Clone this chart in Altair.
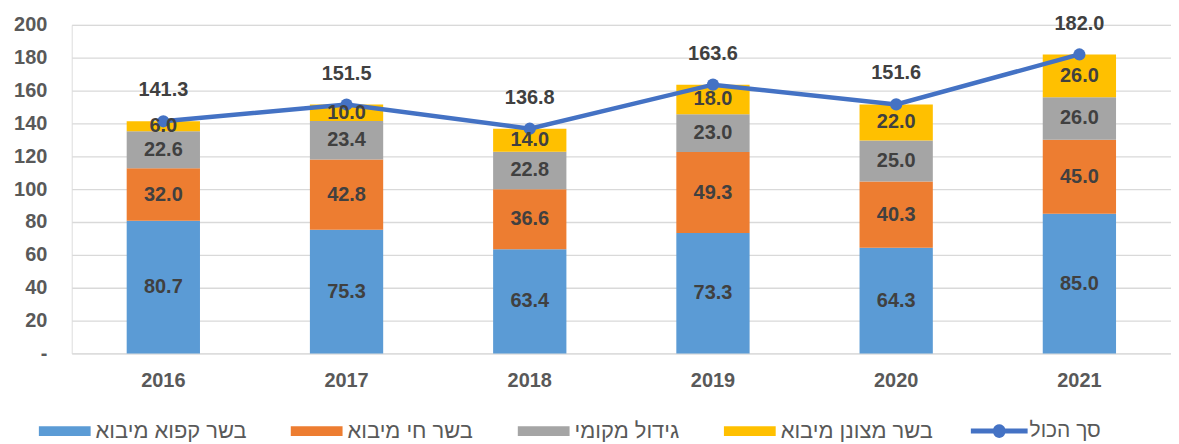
import altair as alt
import pandas as pd

years = ["2016", "2017", "2018", "2019", "2020", "2021"]
frozen = [80.7, 75.3, 63.4, 73.3, 64.3, 85.0]
live = [32.0, 42.8, 36.6, 49.3, 40.3, 45.0]
local = [22.6, 23.4, 22.8, 23.0, 25.0, 26.0]
chilled = [6.0, 10.0, 14.0, 18.0, 22.0, 26.0]
totals = [141.3, 151.5, 136.8, 163.6, 151.6, 182.0]

series_names = ["בשר קפוא מיבוא", "בשר חי מיבוא", "גידול מקומי", "בשר מצונן מיבוא"]
total_name = "סך הכול"
colors = ["#5B9BD5", "#ED7D31", "#A5A5A5", "#FFC000"]
line_color = "#4472C4"
y_ticks = [0, 20, 40, 60, 80, 100, 120, 140, 160, 180, 200]

FONT = "Liberation Sans, DejaVu Sans, sans-serif"

rows = []
for i, (name, vals) in enumerate(zip(series_names, [frozen, live, local, chilled])):
    for y, v in zip(years, vals):
        rows.append({"year": y, "series": name, "value": v, "idx": i})
long_df = pd.DataFrame(rows)
tot_df = pd.DataFrame({"year": years, "total": totals, "name": [total_name] * len(years)})

x_axis = alt.Axis(title=None, labelAngle=0, domain=False, ticks=False, tickSize=0,
                  labelPadding=17, labelFont=FONT, labelFontSize=20,
                  labelFontWeight="bold", labelColor="#595959", grid=False)
x_scale = alt.Scale(paddingInner=0.6, paddingOuter=0.3)
y_axis = alt.Axis(title=None, values=y_ticks, domain=False, ticks=False,
                  tickSize=0, labelPadding=25, labelFont=FONT, labelFontSize=20,
                  labelFontWeight="bold", labelColor="#595959",
                  labelOverlap=False, labelFlush=False, grid=True,
                  gridColor="#D9D9D9", gridWidth=1.3,
                  labelExpr="datum.value == 0 ? '-\u00a0\u00a0' : datum.label")
y_scale = alt.Scale(domain=[0, 200], nice=False, zero=True)


def xe():
    return alt.X("year:N", sort=years, scale=x_scale, axis=x_axis)


def ye(field, **kw):
    return alt.Y(field, scale=y_scale, axis=y_axis, **kw)


base = alt.Chart(long_df)

bars = base.mark_bar(strokeWidth=0).encode(
    x=xe(),
    y=ye("value:Q", stack="zero"),
    fill=alt.Fill("series:N", scale=alt.Scale(domain=series_names, range=colors),
                  legend=alt.Legend(title=None, orient="none", direction="horizontal",
                                    legendX=-33, legendY=382, padding=0,
                                    symbolType="M-1,-0.19H1V0.19H-1Z", symbolSize=2704,
                                    symbolStrokeWidth=0, labelOffset=5, columnPadding=44,
                                    labelFont=FONT, labelFontSize=22, labelColor="#595959",
                                    labelLimit=400)),
    order=alt.Order("idx:Q", sort="ascending"),
)

seg_labels = base.transform_stack(
    stack="value", groupby=["year"], as_=["v0", "v1"],
    sort=[alt.SortField("idx", order="ascending")],
).transform_calculate(mid="(datum.v0 + datum.v1) / 2").mark_text(
    font=FONT, fontSize=20, fontWeight="bold", color="#404040", baseline="middle",
).encode(
    x=xe(),
    y=ye("mid:Q"),
    text=alt.Text("value:Q", format=".1f"),
)

tot_base = alt.Chart(tot_df)
line = tot_base.mark_line(color=line_color, strokeWidth=4.5).encode(
    x=xe(),
    y=ye("total:Q"),
)
points = tot_base.mark_point(filled=True, size=150, opacity=1, strokeWidth=0).encode(
    x=xe(),
    y=ye("total:Q"),
    fill=alt.Fill("name:N", scale=alt.Scale(domain=[total_name], range=[line_color]),
                  legend=alt.Legend(title=None, orient="none", direction="horizontal",
                                    legendX=903, legendY=379.5, padding=0,
                                    symbolType="M-1,-0.088H-0.21A0.22,0.22 0 0,1 0.21,-0.088H1V0.088H0.21A0.22,0.22 0 0,1 -0.21,0.088H-1Z",
                                    symbolSize=3249, symbolStrokeWidth=0, labelOffset=2,
                                    labelFont=FONT, labelFontSize=21, labelColor="#595959",
                                    labelLimit=400)),
)
tot_labels = tot_base.mark_text(
    font=FONT, fontSize=20, fontWeight="bold", color="#404040", baseline="middle", dy=-31,
).encode(
    x=xe(),
    y=ye("total:Q"),
    text=alt.Text("total:Q", format=".1f"),
)

chart = alt.layer(bars, line, points, seg_labels, tot_labels).resolve_scale(
    fill="independent"
).properties(
    width=1104, height=330,
    autosize=alt.AutoSizeParams(type="none"),
    padding={"left": 64, "top": 16, "right": 0, "bottom": 90},
).configure_view(stroke=None).configure(background="white")

chart.save("out.html", embed_options={"renderer": "svg", "actions": False})
